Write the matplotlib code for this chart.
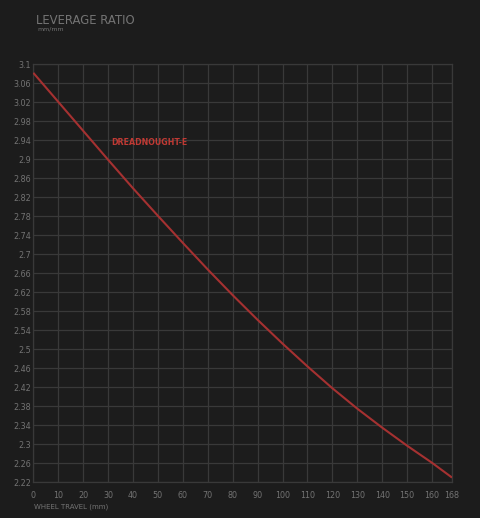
import matplotlib
matplotlib.use("Agg")
import matplotlib.pyplot as plt
import numpy as np

plt.rcParams['font.family'] = ['DejaVu Sans']

travel = [0, 10, 20, 30, 40, 50, 60, 70, 80, 90, 100, 110, 120, 130, 140, 150, 160, 168]
ratio = [3.082, 3.021, 2.960, 2.899, 2.839, 2.781, 2.724, 2.668, 2.614, 2.562,
         2.512, 2.464, 2.418, 2.375, 2.335, 2.297, 2.261, 2.230]
x_ticks = [0, 10, 20, 30, 40, 50, 60, 70, 80, 90, 100, 110, 120, 130, 140, 150, 160, 168]
y_ticks = [round(2.22 + 0.04 * i, 2) for i in range(23)]
series_name = "DREADNOUGHT-E"

bg = '#1c1c1c'
grid_c = '#393939'
tick_c = '#737373'
line_c = '#a53131'

fig = plt.figure(figsize=(4.8, 5.18), dpi=100, facecolor=bg)
ax = fig.add_axes([0.0694, 0.0689, 0.8723, 0.807])
ax.set_facecolor(bg)

ax.plot(travel, ratio, color=line_c, lw=1.5, solid_capstyle='butt', zorder=3)

ax.set_xlim(0, 168)
ax.set_ylim(2.22, 3.1)
ax.set_xticks(x_ticks)
ax.set_yticks(y_ticks)
ax.set_xticklabels([str(t) for t in x_ticks])
ax.set_yticklabels(['%g' % t for t in y_ticks])
ax.grid(True, color=grid_c, lw=0.9)
for s in ax.spines.values():
    s.set_color(grid_c)
    s.set_linewidth(0.9)
ax.tick_params(length=0, colors=tick_c, labelsize=5.8, pad=1.5)
ax.tick_params(axis='x', pad=6.3)

ax.text(0.186, 0.814, series_name, transform=ax.transAxes, color='#c03a34',
        fontsize=5.7, fontweight='bold', va='center', ha='left')

fig.text(35.5 / 480, 1 - 20.3 / 518, "LEVERAGE RATIO", color='#747474', fontsize=8.4,
         va='center', ha='left')
fig.text(37.5 / 480, 1 - 29.5 / 518, "mm/mm", color='#707070', fontsize=4.5,
         va='center', ha='left')
fig.text(34 / 480, 1 - 507 / 518, "WHEEL TRAVEL (mm)", color='#737373', fontsize=5,
         va='center', ha='left')

fig.savefig("out.png", dpi=100, facecolor=bg)
